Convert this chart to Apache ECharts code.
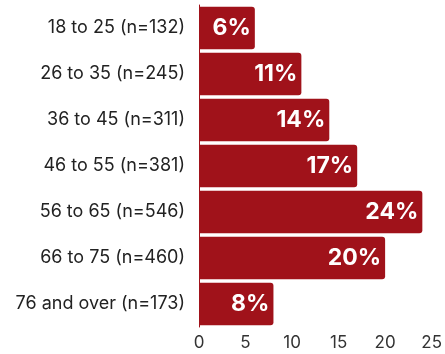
<!DOCTYPE html>
<html>
<head>
<meta charset="utf-8">
<script src="https://cdn.jsdelivr.net/npm/echarts@6/dist/echarts.min.js"></script>
<style>
  html, body { margin: 0; padding: 0; background: #fff; }
  #chart { width: 445px; height: 354px; }
</style>
</head>
<body>
<div id="chart"></div>
<script>
// Age groups, top to bottom, with respondent counts
const categories = [
  '18 to 25 (n=132)',
  '26 to 35 (n=245)',
  '36 to 45 (n=311)',
  '46 to 55 (n=381)',
  '56 to 65 (n=546)',
  '66 to 75 (n=460)',
  '76 and over (n=173)'
];
// Share of respondents in each group (%)
const shares = [6, 11, 14, 17, 24, 20, 8];
// Value axis ticks
const xTicks = [0, 5, 10, 15, 20, 25];

const barColor = '#a0121a';
const chart = echarts.init(document.getElementById('chart'));

chart.setOption({
  animation: false,
  grid: { left: 199, right: 13, top: 5, bottom: 27, containLabel: false },
  xAxis: {
    type: 'value',
    min: xTicks[0],
    max: xTicks[xTicks.length - 1],
    interval: 5,
    splitLine: { show: false },
    axisLine: { show: false },
    axisTick: { show: false },
    axisLabel: {
      color: '#333',
      fontFamily: 'Inter',
      fontSize: 17,
      margin: 7
    }
  },
  yAxis: {
    type: 'category',
    inverse: true,
    data: categories,
    axisLine: { show: true, lineStyle: { color: barColor, width: 1 } },
    axisTick: { show: false },
    axisLabel: {
      color: '#222',
      fontFamily: 'Inter',
      fontSize: 18,
      margin: 14
    }
  },
  series: [{
    type: 'bar',
    data: shares,
    barCategoryGap: '8%',
    itemStyle: { color: barColor, borderRadius: [0, 3, 3, 0] },
    label: {
      show: true,
      position: 'insideRight',
      distance: 4,
      formatter: p => p.value + '%',
      color: '#fff',
      fontFamily: 'Inter',
      fontWeight: 'bold',
      fontSize: 23
    }
  }]
});
</script>
</body>
</html>
